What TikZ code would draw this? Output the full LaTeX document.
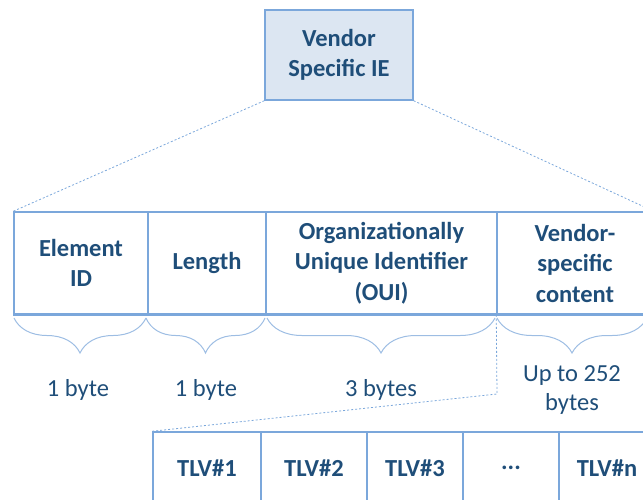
\documentclass[tikz,border=0pt]{standalone}
\usepackage{fontspec}
\setmainfont{Carlito}
\usetikzlibrary{decorations.pathreplacing}
\definecolor{ieText}{HTML}{1F4E79}
\definecolor{ieLine}{HTML}{7BA7DB}
\definecolor{ieFill}{HTML}{DCE6F2}
\definecolor{ieBrace}{HTML}{9DBDE3}
\begin{document}
\begin{tikzpicture}[x=1pt,y=-1pt,
  field/.style={draw=ieLine, line width=1.5pt, text=ieText, align=center,
    inner sep=0pt, font=\bfseries\fontsize{24.5}{30.5}\selectfont},
  rowcell/.style={field, minimum height=102pt},
  tlvcell/.style={field, minimum height=72pt},
  sizelabel/.style={text=ieText, align=center, inner sep=0pt,
    font=\fontsize{24.5}{29}\selectfont},
  zoomline/.style={draw=ieLine, line width=0.8pt, dash pattern=on 2pt off 2pt},
  bytebrace/.style={draw=ieBrace, line width=1pt,
    decorate, decoration={brace, mirror, amplitude=35pt}}]
\useasboundingbox (0,0) rectangle (643,499);
\clip (0,0) rectangle (643,499);

% element header
\node[field, fill=ieFill, minimum width=148pt, minimum height=90pt] (ie) at (339,55) {Vendor\\Specific IE};

% IE fields
\node[rowcell, minimum width=134pt] (eid) at (81,263) {Element\\ID};
\node[rowcell, minimum width=118pt] (len) at (207,263) {Length};
\node[rowcell, minimum width=231pt] (oui) at (381.5,263) {Organizationally\\Unique Identifier\\(OUI)};
\node[rowcell, minimum width=156pt] (vsc) at (575,263) {Vendor-\\specific\\content};
\draw[ieLine, line width=2.4pt] (eid.south west) -- (vsc.south east);

% expansion of the header into its fields
\draw[zoomline] (ie.south west) -- (eid.north west);
\draw[zoomline] (ie.south east) -- (vsc.north east);

% field sizes
\coordinate (b0) at (14,318);
\coordinate (b1) at (146,318);
\coordinate (b2) at (265,318);
\coordinate (b3) at (267,318);
\coordinate (b4) at (495,318);
\coordinate (b5) at (497,318);
\coordinate (b6) at (647,318);
\draw[bytebrace] (b0) -- (b1);
\draw[bytebrace] (b1) -- (b2);
\draw[bytebrace] (b3) -- (b4);
\draw[bytebrace] (b5) -- (b6);
\node[sizelabel] (s1) at (78,390) {1 byte};
\node[sizelabel] (s2) at (206,390) {1 byte};
\node[sizelabel] (s3) at (381,390) {3 bytes};
\node[sizelabel] (s4) at (572,390) {Up to 252\\bytes};

% TLV list
\node[tlvcell, minimum width=108pt] (t1) at (207,468) {TLV\#1};
\node[tlvcell, minimum width=106pt] (t2) at (314,468) {TLV\#2};
\node[tlvcell, minimum width=96pt] (t3) at (415,468) {TLV\#3};
\node[tlvcell, minimum width=96pt] (t4) at (511,468) {...};
\node[tlvcell, minimum width=96pt] (t5) at (607,468) {TLV\#n};

% expansion of the vendor content into TLVs
\coordinate (bend) at (497,394);
\draw[zoomline] (vsc.south west) -- (bend) -- (t1.north west);
\end{tikzpicture}
\end{document}
